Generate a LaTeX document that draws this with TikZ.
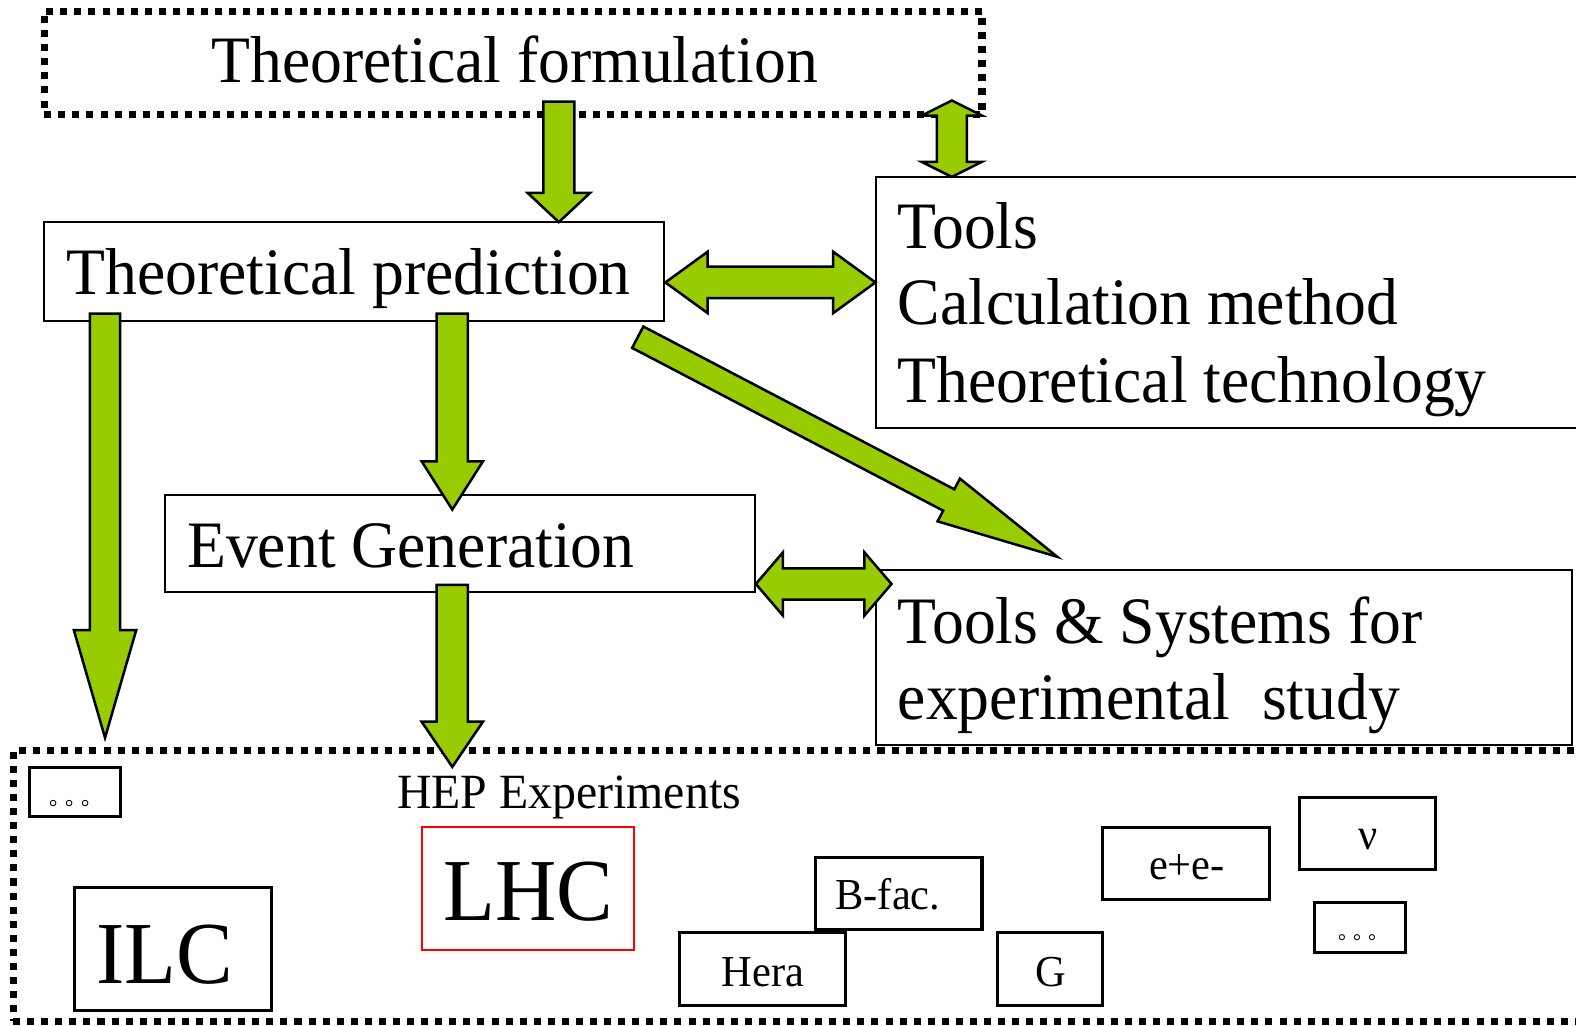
\documentclass[tikz,border=0pt]{standalone}
\usepackage{fontspec}
\setmainfont{Liberation Serif}
\newfontfamily\cjkfont{Noto Sans CJK JP}
\usetikzlibrary{calc}
\definecolor{arrowgreen}{HTML}{99CC00}
\newcommand{\cnd}[1]{\scalebox{0.96}[1]{#1}}
\newcommand{\sarrow}[5]{%
  \coordinate (sah) at ($(#2)!#5!(#1)$);
  \draw[blockarrow] ($(#1)!#3!90:(#2)$) -- ($(sah)!#3!90:(#2)$) -- ($(sah)!#4!90:(#2)$) -- (#2)
    -- ($(sah)!#4!-90:(#2)$) -- ($(sah)!#3!-90:(#2)$) -- ($(#1)!#3!-90:(#2)$) -- cycle;}
\newcommand{\darrow}[5]{%
  \coordinate (dah) at ($(#2)!#5!(#1)$);
  \coordinate (dat) at ($(#1)!#5!(#2)$);
  \draw[blockarrow] (#1) -- ($(dat)!#4!90:(#2)$) -- ($(dat)!#3!90:(#2)$) -- ($(dah)!#3!90:(#2)$)
    -- ($(dah)!#4!90:(#2)$) -- (#2) -- ($(dah)!#4!-90:(#2)$) -- ($(dah)!#3!-90:(#2)$)
    -- ($(dat)!#3!-90:(#2)$) -- ($(dat)!#4!-90:(#2)$) -- cycle;}
\tikzset{
  blockarrow/.style={fill=arrowgreen, draw=black, line width=2.5pt, line join=miter},
  box/.style={draw=black, line width=2pt, inner sep=0pt},
  smallbox/.style={draw=black, line width=3pt, inner sep=0pt},
  redbox/.style={draw=red, line width=2pt, inner sep=0pt},
  dotframe/.style={draw=black, line width=7pt, dash pattern=on 7pt off 7pt, inner sep=0pt},
  bigtext/.style={font=\fontsize{66}{72}\selectfont, inner sep=0pt, anchor=base west},
  midtext/.style={font=\fontsize{49}{54}\selectfont, inner sep=0pt, anchor=base west},
  smalltext/.style={font=\fontsize{44}{48}\selectfont, inner sep=0pt, anchor=base west},
  hugetext/.style={font=\fontsize{88}{96}\selectfont, inner sep=0pt, anchor=base west},
  dottext/.style={inner sep=0pt, anchor=base west},
}
\begin{document}
\begin{tikzpicture}[x=1pt,y=-1pt]
\useasboundingbox (0,0) rectangle (1568,1020);
\clip (0,0) rectangle (1568,1020);
\fill[white] (0,0) rectangle (1568,1020);

% boxes
\node[dotframe, minimum width=933pt, minimum height=103pt] (tf) at (510.5,62.5) {};
\node[box, minimum width=617pt, minimum height=98pt] (tp) at (352.5,270) {};
\node[box, minimum width=740pt, minimum height=250pt] (tools) at (1242,301) {};
\node[box, minimum width=587pt, minimum height=97pt] (eg) at (457.5,540.5) {};
\node[box, minimum width=692pt, minimum height=174pt] (ts) at (1218,654) {};
\node[dotframe, minimum width=1580pt, minimum height=269pt] (hep) at (803,881.5) {};

% texts
\node[bigtext] (tft) at (210,82) {\cnd{Theoretical formulation}};
\node[bigtext] (tpt) at (66,293) {\cnd{Theoretical prediction}};
\node[bigtext] (tl1) at (893,247) {\cnd{Tools}};
\node[bigtext] (tl2) at (893,323) {\cnd{Calculation method}};
\node[bigtext] (tl3) at (893,400) {\cnd{Theoretical technology}};
\node[bigtext] (egt) at (186,565) {\cnd{Event Generation}};
\node[bigtext] (ts1) at (893,640) {\cnd{Tools \& Systems for}};
\node[bigtext] (ts2) at (893,716) {\cnd{experimental~ study}};
\node[midtext] (hept) at (395,804) {\scalebox{0.97}[1]{HEP Experiments}};

% experiment boxes
\node[smallbox, minimum width=91pt, minimum height=48pt] (d1) at (74.5,788) {};
\node[dottext, font=\cjkfont\fontsize{21}{21}\selectfont] (d1t) at (49,801) {。\hspace{-5pt}。\hspace{-5pt}。};
\node[smallbox, minimum width=196pt, minimum height=122pt] (ilc) at (172,944) {};
\node[hugetext] (ilct) at (96,978) {\cnd{ILC}};
\node[redbox, minimum width=211pt, minimum height=122pt] (lhc) at (525.5,884) {};
\node[hugetext] (lhct) at (441,916) {\cnd{LHC}};
\node[smallbox, minimum width=165pt, minimum height=72pt] (hera) at (758.5,964) {};
\node[smalltext] (herat) at (718,981) {\cnd{Hera}};
\node[smallbox, minimum width=166pt, minimum height=72pt] (bfac) at (894,889) {};
\node[smalltext] (bfact) at (831,905) {\cnd{B-fac.}};
\node[smallbox, minimum width=105pt, minimum height=72pt] (g) at (1044.5,964) {};
\node[smalltext] (gt) at (1030,981) {\cnd{G}};
\node[smallbox, minimum width=166pt, minimum height=72pt] (ee) at (1180,859) {};
\node[smalltext] (eet) at (1143,875) {\cnd{e+e-}};
\node[smallbox, minimum width=135pt, minimum height=72pt] (nu) at (1360.5,829) {};
\node[smalltext] (nut) at (1351,845) {\cnd{ν}};
\node[smallbox, minimum width=90pt, minimum height=50pt] (d2) at (1353,923) {};
\node[dottext, font=\cjkfont\fontsize{20}{20}\selectfont] (d2t) at (1331,935) {。\hspace{-5pt}。\hspace{-5pt}。};

% arrow end points
\coordinate (a1s) at (556,101);  \coordinate (a1e) at (556,221);
\coordinate (a2s) at (947,100);  \coordinate (a2e) at (947,176);
\coordinate (a3s) at (662,281);  \coordinate (a3e) at (871,281);
\coordinate (a4s) at (752,581);  \coordinate (a4e) at (887,581);
\coordinate (a5s) at (104.5,312); \coordinate (a5e) at (104.5,734);
\coordinate (a6s) at (450,312);  \coordinate (a6e) at (450,507);
\coordinate (a7s) at (450,582);  \coordinate (a7e) at (450,763);
\coordinate (a8s) at (634.5,335.5); \coordinate (a8e) at (1052,554);

% arrows
\sarrow{a1s}{a1e}{15.5pt}{31pt}{29pt}
\darrow{a2s}{a2e}{15pt}{30pt}{15pt}
\darrow{a3s}{a3e}{15.7pt}{30.5pt}{42pt}
\darrow{a4s}{a4e}{15.5pt}{31.5pt}{27pt}
\sarrow{a5s}{a5e}{15pt}{31pt}{107pt}
\sarrow{a6s}{a6e}{15.5pt}{30.5pt}{48pt}
\sarrow{a7s}{a7e}{15.5pt}{30.5pt}{45pt}
\sarrow{a8s}{a8e}{12pt}{24pt}{122pt}
\end{tikzpicture}
\end{document}
